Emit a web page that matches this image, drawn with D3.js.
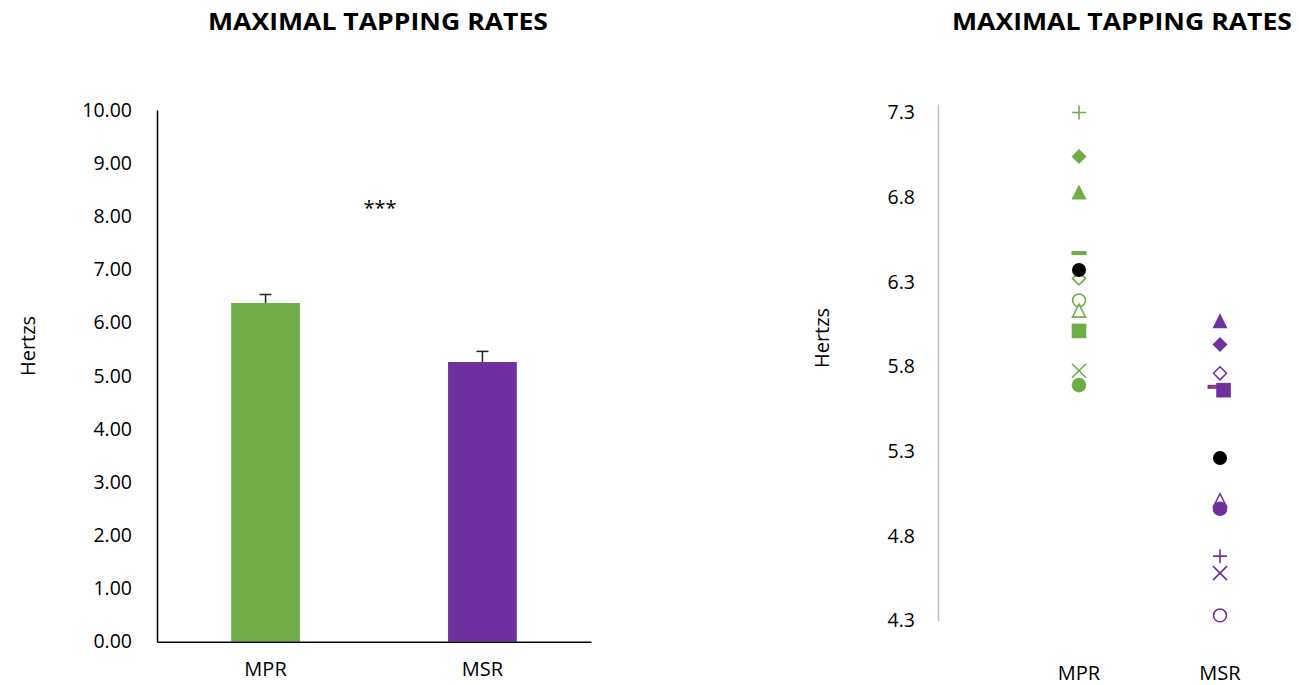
<!DOCTYPE html>
<html>
<head>
<meta charset="utf-8">
<script src="https://cdn.jsdelivr.net/npm/d3@7"></script>
<style>
  body { margin: 0; background: #fff; }
  svg { display: block; font-family: "Open Sans", sans-serif; }
</style>
</head>
<body>
<svg id="chart"></svg>
<script>
const width = 1299;
const height = 685;
const green = '#70AD47';
const purple = '#7030A0';

// bar chart data
const conditions = ['MPR', 'MSR'];
const means = [6.37, 5.26];
const errors = [0.16, 0.20];
const barTicks = [0, 1, 2, 3, 4, 5, 6, 7, 8, 9, 10];

// individual subjects (same marker per subject in both conditions)
const subjectMarkers = ['plus', 'diamond', 'triangle', 'dash', 'openDiamond', 'openCircle', 'openTriangle', 'square', 'cross', 'circle'];
const mprValues = [7.30, 7.04, 6.83, 6.47, 6.32, 6.19, 6.13, 6.01, 5.775, 5.69];
const msrValues = [4.68, 5.93, 6.07, 5.68, 5.76, 4.33, 5.01, 5.66, 4.58, 4.96];
// small horizontal nudges on the category axis (overlapping points in the original)
const msrOffsets = [0, 0, 0, -0.035, 0, 0, 0, 0.025, 0, 0];
const scatterTicks = [4.3, 4.8, 5.3, 5.8, 6.3, 6.8, 7.3];

const svg = d3.select('#chart').attr('width', width).attr('height', height);

function title(x) {
    svg.append('text')
        .attr('x', x).attr('y', 22).attr('dy', '0.35em')
        .attr('text-anchor', 'middle')
        .attr('font-weight', 'bold').attr('font-size', 23)
        .attr('textLength', 340).attr('lengthAdjust', 'spacingAndGlyphs')
        .text('MAXIMAL TAPPING RATES');
}

// ---------- left: bar chart ----------
const xBar = d3.scaleBand().domain(conditions).range([157, 591]).paddingInner(0.683).paddingOuter(0.342);
const yBar = d3.scaleLinear().domain([0, 10]).range([641.7, 110]);

title(378);

const barAxis = svg.append('g')
    .attr('transform', 'translate(157,0)')
    .call(d3.axisLeft(yBar).tickValues(barTicks).tickFormat(d3.format('.2f')).tickSize(0).tickPadding(25));
barAxis.select('.domain').attr('stroke', '#000').attr('stroke-width', 1.5);
barAxis.selectAll('text').attr('font-size', 19.5).attr('fill', '#000').attr('font-family', '"Open Sans", sans-serif');

svg.selectAll('rect.bar')
    .data(conditions)
    .enter().append('rect')
    .attr('class', 'bar')
    .attr('x', d => xBar(d))
    .attr('width', xBar.bandwidth())
    .attr('y', (d, i) => yBar(means[i]))
    .attr('height', (d, i) => yBar(0) - yBar(means[i]))
    .attr('fill', (d, i) => i === 0 ? green : purple);

// error bars (upper only)
const err = svg.append('g').attr('stroke', '#222').attr('stroke-width', 1.5);
conditions.forEach((c, i) => {
    const cx = xBar(c) + xBar.bandwidth() / 2;
    err.append('line').attr('x1', cx).attr('x2', cx)
        .attr('y1', yBar(means[i])).attr('y2', yBar(means[i] + errors[i]));
    err.append('line').attr('x1', cx - 6).attr('x2', cx + 6)
        .attr('y1', yBar(means[i] + errors[i])).attr('y2', yBar(means[i] + errors[i]));
});

const barX = svg.append('g')
    .attr('transform', 'translate(0,641.7)')
    .call(d3.axisBottom(xBar).tickSize(0).tickPadding(20));
barX.select('.domain').attr('stroke', '#000').attr('stroke-width', 1.5);
barX.selectAll('text').attr('font-size', 20).attr('fill', '#000').attr('font-family', '"Open Sans", sans-serif');

svg.append('text')
    .attr('x', 380).attr('y', 208).attr('dy', '0.35em')
    .attr('text-anchor', 'middle').attr('font-size', 20)
    .text('***');

svg.append('text')
    .attr('transform', 'translate(28,346) rotate(-90)')
    .attr('dy', '0.35em').attr('text-anchor', 'middle').attr('font-size', 20)
    .text('Hertzs');

// ---------- right: individual scatter ----------
const xSc = d3.scaleLinear().domain([0, 2.5]).range([938, 1290.5]);
const ySc = d3.scaleLinear().domain([4.3, 7.35]).range([620.5, 104]);

title(1122);

const scAxis = svg.append('g')
    .attr('transform', 'translate(938,0)')
    .call(d3.axisLeft(ySc).tickValues(scatterTicks).tickFormat(d3.format('.1f')).tickSize(0).tickPadding(23));
scAxis.select('.domain').attr('stroke', '#bfbfbf').attr('stroke-width', 1.5);
scAxis.selectAll('text').attr('font-size', 19.5).attr('fill', '#000').attr('font-family', '"Open Sans", sans-serif');

svg.append('text')
    .attr('transform', 'translate(822,338) rotate(-90)')
    .attr('dy', '0.35em').attr('text-anchor', 'middle').attr('font-size', 20)
    .text('Hertzs');

conditions.forEach((c, i) => {
    svg.append('text')
        .attr('x', xSc(i + 1)).attr('y', 673).attr('dy', '0.35em')
        .attr('text-anchor', 'middle').attr('font-size', 20)
        .text(c);
});

function drawMarker(g, type, x, y, color) {
    const s = 7;
    if (type === 'plus') {
        g.append('path').attr('d', `M${x - s},${y}H${x + s}M${x},${y - s}V${y + s}`)
            .attr('stroke', color).attr('stroke-width', 1.6).attr('fill', 'none');
    } else if (type === 'cross') {
        g.append('path').attr('d', `M${x - s},${y - s}L${x + s},${y + s}M${x - s},${y + s}L${x + s},${y - s}`)
            .attr('stroke', color).attr('stroke-width', 1.6).attr('fill', 'none');
    } else if (type === 'dash') {
        g.append('rect').attr('x', x - 7.5).attr('y', y - 2).attr('width', 15).attr('height', 4).attr('fill', color);
    } else if (type === 'diamond' || type === 'openDiamond') {
        const r = type === 'diamond' ? 7.5 : 6.5;
        g.append('path').attr('d', `M${x},${y - r}L${x + r},${y}L${x},${y + r}L${x - r},${y}Z`)
            .attr('fill', type === 'diamond' ? color : '#fff')
            .attr('stroke', color).attr('stroke-width', type === 'diamond' ? 0 : 1.6);
    } else if (type === 'triangle' || type === 'openTriangle') {
        const r = type === 'triangle' ? 7.5 : 6.5;
        g.append('path').attr('d', `M${x},${y - r}L${x + r},${y + r}L${x - r},${y + r}Z`)
            .attr('fill', type === 'triangle' ? color : '#fff')
            .attr('stroke', color).attr('stroke-width', type === 'triangle' ? 0 : 1.6);
    } else if (type === 'square') {
        g.append('rect').attr('x', x - 7.3).attr('y', y - 7.3).attr('width', 14.6).attr('height', 14.6).attr('fill', color);
    } else if (type === 'circle') {
        g.append('circle').attr('cx', x).attr('cy', y).attr('r', 7.3).attr('fill', color);
    } else if (type === 'openCircle') {
        g.append('circle').attr('cx', x).attr('cy', y).attr('r', 6.4)
            .attr('fill', '#fff').attr('stroke', color).attr('stroke-width', 1.6);
    }
}

const pts = svg.append('g');
subjectMarkers.forEach((m, i) => {
    drawMarker(pts, m, xSc(1), ySc(mprValues[i]), green);
    drawMarker(pts, m, xSc(2 + msrOffsets[i]), ySc(msrValues[i]), purple);
    if (m === 'dash') {
        pts.append('line')
            .attr('x1', xSc(2 + msrOffsets[i]) - 5).attr('x2', xSc(2 + msrOffsets[i]) + 5)
            .attr('y1', ySc(msrValues[i])).attr('y2', ySc(msrValues[i]))
            .attr('stroke', '#C55A11').attr('stroke-width', 1);
    }
});
// group means in black
means.forEach((v, i) => {
    pts.append('circle').attr('cx', xSc(i + 1)).attr('cy', ySc(v)).attr('r', 7).attr('fill', '#000');
});
</script>
</body>
</html>
